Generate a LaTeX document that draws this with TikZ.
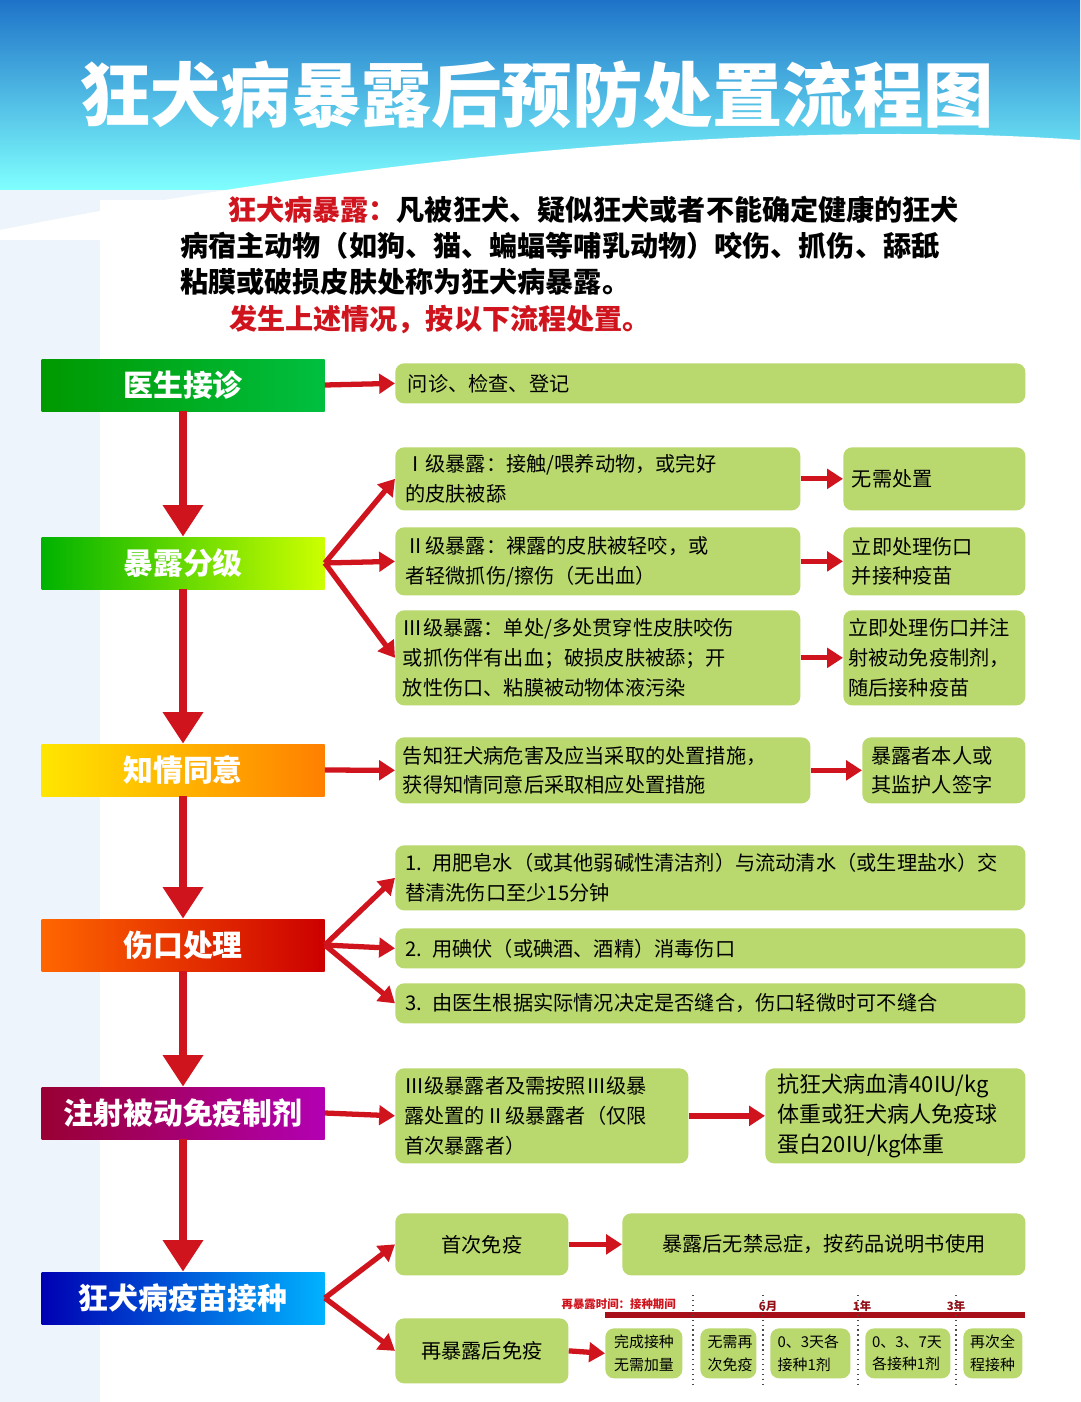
\documentclass[tikz,border=0pt]{standalone}
\usepackage{fontspec}
\setmainfont{Noto Sans CJK SC}
\usetikzlibrary{arrows.meta, calc}
\definecolor{boxgreen}{HTML}{B9D86E}
\definecolor{arrowred}{HTML}{D0141E}
\definecolor{skyblue}{HTML}{1E73C8}
\tikzset{
  box/.style={fill=boxgreen, rounded corners=5pt, align=left, anchor=north west, inner sep=0pt, font=\fontsize{11.5}{17}\selectfont},
  stage/.style={minimum width=283*0.02cm, minimum height=52*0.02cm, font=\bfseries\fontsize{17}{20}\selectfont, text=white},
  redarrow/.style={draw=arrowred, line width=3pt, -{Triangle[length=9pt,width=11pt]}},
  bigarrow/.style={draw=arrowred, line width=5pt, -{Triangle[length=18pt,width=22pt]}},
}
\begin{document}
\begin{tikzpicture}[x=0.02cm, y=-0.02cm]
        \useasboundingbox (0,0) rectangle (1080,1402);
        % background
        \fill[white!92!skyblue] (0,0) rectangle (1080,1402);
        \fill[white] (100,200) rectangle (1080,1402);
        \shade[top color=skyblue, bottom color=cyan!50] (0,0) rectangle (1080,190);
        \fill[white] (0,230) .. controls (400,150) and (800,120) .. (1080,140) -- (1080,200) -- (100,200) -- (100,240) -- (0,240) -- cycle;
        \node[font=\bfseries\fontsize{40}{46}\selectfont, text=white] (title) at (537,95) {狂犬病暴露后预防处置流程图};

        % intro
        \node[anchor=north west, align=left, font=\bfseries\fontsize{16}{20.5}\selectfont, inner sep=0pt] (intro) at (180,196)
          {\hspace*{1.7em}\textcolor{arrowred}{狂犬病暴露：}凡被狂犬、疑似狂犬或者不能确定健康的狂犬\\
           病宿主动物（如狗、猫、蝙蝠等哺乳动物）咬伤、抓伤、舔舐\\
           粘膜或破损皮肤处称为狂犬病暴露。};
        \node[font=\bfseries\fontsize{16}{20}\selectfont, text=arrowred] (note) at (440,320) {发生上述情况，按以下流程处置。};

        % stages
        \node[stage, left color=green!60!black, right color=green!50!teal] (s1) at (183,385) {医生接诊};
        \node[stage, left color=green!70!black, right color=yellow!80!green] (s2) at (183,563) {暴露分级};
        \node[stage, left color=yellow!80!orange, right color=orange] (s3) at (183,770) {知情同意};
        \node[stage, left color=orange!80!red, right color=red!80!black] (s4) at (183,945) {伤口处理};
        \node[stage, left color=purple!80!black, right color=magenta!70!black] (s5) at (183,1113) {注射被动免疫制剂};
        \node[stage, left color=blue!70!black, right color=cyan!70!blue] (s6) at (183,1298) {狂犬病疫苗接种};
        \foreach \a/\b in {s1/s2, s2/s3, s3/s4, s4/s5, s5/s6}
          \draw[bigarrow] (\a.south) -- (\b.north);

        % green boxes
        \node[box, minimum width=630*0.02cm, minimum height=40*0.02cm, text width=605*0.02cm] (b1) at (395,363) {问诊、检查、登记};
        \node[box, minimum width=405*0.02cm, minimum height=63*0.02cm, text width=385*0.02cm] (g1) at (395,447) {Ⅰ级暴露：接触/喂养动物，或完好\\的皮肤被舔};
        \node[box, minimum width=182*0.02cm, minimum height=63*0.02cm, text width=165*0.02cm] (r1) at (843,447) {无需处置};
        \node[box, minimum width=405*0.02cm, minimum height=68*0.02cm, text width=385*0.02cm] (g2) at (395,527) {Ⅱ级暴露：裸露的皮肤被轻咬，或\\者轻微抓伤/擦伤（无出血）};
        \node[box, minimum width=182*0.02cm, minimum height=68*0.02cm, text width=165*0.02cm] (r2) at (843,527) {立即处理伤口\\并接种疫苗};
        \node[box, minimum width=405*0.02cm, minimum height=95*0.02cm, text width=390*0.02cm] (g3) at (395,610) {Ⅲ级暴露：单处/多处贯穿性皮肤咬伤\\或抓伤伴有出血；破损皮肤被舔；开\\放性伤口、粘膜被动物体液污染};
        \node[box, minimum width=182*0.02cm, minimum height=95*0.02cm, text width=172*0.02cm] (r3) at (843,610) {立即处理伤口并注\\射被动免疫制剂，\\随后接种疫苗};
        \node[box, minimum width=415*0.02cm, minimum height=66*0.02cm, text width=400*0.02cm] (c1) at (395,737) {告知狂犬病危害及应当采取的处置措施，\\获得知情同意后采取相应处置措施};
        \node[box, minimum width=163*0.02cm, minimum height=66*0.02cm, text width=145*0.02cm] (c2) at (862,737) {暴露者本人或\\其监护人签字};
        \node[box, minimum width=630*0.02cm, minimum height=65*0.02cm, text width=610*0.02cm] (w1) at (395,845) {1. 用肥皂水（或其他弱碱性清洁剂）与流动清水（或生理盐水）交\\替清洗伤口至少15分钟};
        \node[box, minimum width=630*0.02cm, minimum height=40*0.02cm, text width=610*0.02cm] (w2) at (395,928) {2. 用碘伏（或碘酒、酒精）消毒伤口};
        \node[box, minimum width=630*0.02cm, minimum height=40*0.02cm, text width=610*0.02cm] (w3) at (395,983) {3. 由医生根据实际情况决定是否缝合，伤口轻微时可不缝合};
        \node[box, minimum width=293*0.02cm, minimum height=95*0.02cm, text width=275*0.02cm] (p1) at (395,1068) {Ⅲ级暴露者及需按照Ⅲ级暴\\露处置的Ⅱ级暴露者（仅限\\首次暴露者）};
        \node[box, minimum width=260*0.02cm, minimum height=95*0.02cm, text width=235*0.02cm, font=\fontsize{12.5}{17}\selectfont] (p2) at (765,1068) {抗狂犬病血清40IU/kg\\体重或狂犬病人免疫球\\蛋白20IU/kg体重};
        \node[box, minimum width=173*0.02cm, minimum height=62*0.02cm, align=center, text width=173*0.02cm] (v1) at (395,1213) {首次免疫};
        \node[box, minimum width=403*0.02cm, minimum height=62*0.02cm, align=center, text width=403*0.02cm] (v2) at (622,1213) {暴露后无禁忌症，按药品说明书使用};
        \node[box, minimum width=173*0.02cm, minimum height=65*0.02cm, align=center, text width=173*0.02cm] (v3) at (395,1318) {再暴露后免疫};

        % timeline
        \coordinate (tl) at (605,1315);
        \coordinate (tr) at (1025,1315);
        \draw[arrowred!80!black, line width=3pt] (tl) -- (tr);
        \node[anchor=east, text=arrowred, font=\bfseries\fontsize{6.5}{8}\selectfont] (tlab) at (682,1304) {再暴露时间：接种期间};
        \foreach \x/\t in {768/6月, 862/1年, 956/3年}
          \node[text=arrowred!70!black, font=\bfseries\fontsize{6.5}{8}\selectfont] at (\x,1306) {\t};
        \foreach \x in {693,763,858,956}
          \draw[dotted, thick, black!70] (\x,1295) -- (\x,1385);
        \tikzset{tiny/.style={box, align=left, font=\fontsize{8.5}{13}\selectfont, minimum height=50*0.02cm}}
        \node[tiny, minimum width=77*0.02cm, text width=70*0.02cm] (t1) at (605,1328) {\hspace*{3pt}完成接种\\\hspace*{3pt}无需加量};
        \node[tiny, minimum width=56*0.02cm, text width=52*0.02cm] (t2) at (700,1328) {\hspace*{3pt}无需再\\\hspace*{3pt}次免疫};
        \node[tiny, minimum width=80*0.02cm, text width=76*0.02cm] (t3) at (770,1328) {\hspace*{3pt}0、3天各\\\hspace*{3pt}接种1剂};
        \node[tiny, minimum width=85*0.02cm, text width=82*0.02cm] (t4) at (865,1328) {\hspace*{3pt}0、3、7天\\\hspace*{3pt}各接种1剂};
        \node[tiny, minimum width=59*0.02cm, text width=56*0.02cm] (t5) at (963,1328) {\hspace*{3pt}再次全\\\hspace*{3pt}程接种};

        % arrows
        \draw[redarrow] (s1.east) -- (b1.west);
        \foreach \g in {g1, g2, g3}
          \draw[redarrow] (s2.east) -- (\g.west);
        \foreach \g/\r in {g1/r1, g2/r2, g3/r3, c1/c2, p1/p2, v1/v2, v3/t1}
          \draw[redarrow] (\g.east) -- (\r.west);
        \draw[redarrow] (s3.east) -- (c1.west);
        \foreach \w in {w1, w2, w3}
          \draw[redarrow] (s4.east) -- (\w.west);
        \draw[redarrow] (s5.east) -- (p1.west);
        \draw[redarrow] (s6.east) -- (v1.west);
        \draw[redarrow] (s6.east) -- (v3.west);
\end{tikzpicture}
\end{document}
